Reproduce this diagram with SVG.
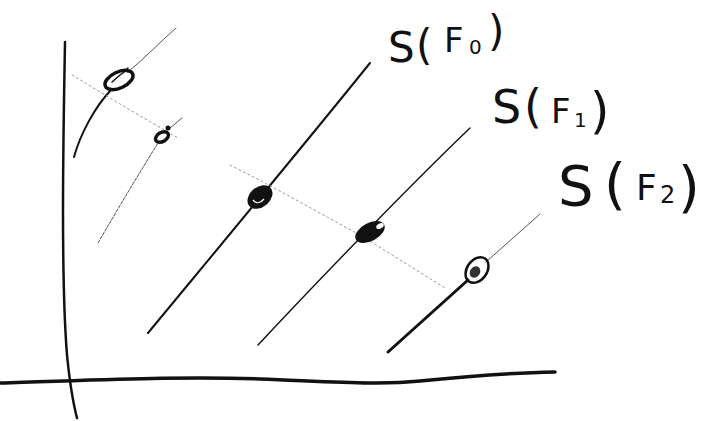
<svg xmlns="http://www.w3.org/2000/svg" width="701" height="421" viewBox="0 0 701 421">
<style>
.ink{fill:none;stroke:#111;stroke-linecap:round;stroke-linejoin:round}
.faint{fill:none;stroke:#555;stroke-width:1;stroke-linecap:round}
.dot{fill:none;stroke:#999;stroke-width:1;stroke-dasharray:2 3;stroke-linecap:round}
.lbl{font-family:"DejaVu Sans","Liberation Sans",sans-serif;fill:#111;font-weight:normal}
</style>
<rect width="701" height="421" fill="#fff"/>
<g id="connectors">
  <path id="axis-y" class="ink" stroke-width="2.5" d="M65,42 C63,150 61,280 67,355 Q71,395 77,418"/>
  <path id="axis-x" class="ink" stroke-width="3.5" d="M0,383 C100,380 180,376 260,379 S380,385 420,381 S500,373 555,372"/>
  <path class="ink" stroke-width="2" d="M74,157 C80,135 95,106 112,89"/>
  <path class="faint" stroke-width="1.3" d="M128,72 C145,58 160,42 176,28"/>
  <path class="faint" stroke-dasharray="3 1.5" d="M98,243 C120,205 140,172 158,143"/>
  <path class="faint" d="M170,128 L182,118"/>
  <path id="line-F0" class="ink" stroke-width="2" d="M148,333 C200,270 300,150 370,63"/>
  <path id="line-F1" class="ink" stroke-width="1.4" d="M258,345 C300,300 400,195 470,128"/>
  <path id="line-F2" class="ink" stroke-width="3" d="M388,352 L468,280"/>
  <path class="faint" stroke-width="1.2" d="M486,262 L540,214"/>
  <path class="dot" d="M72,75 L120,104 L178,138"/>
  <path class="dot" d="M230,165 L265,183 L300,202 L365,238 L445,288"/>
</g>
<g id="node-a">
  <ellipse cx="119" cy="80" rx="15" ry="8" transform="rotate(-25 119 80)" fill="none" stroke="#111" stroke-width="3.5"/>
  <path class="ink" stroke-width="1.5" d="M112,82 L120,75 L127,70 M123,73 L128,68"/>
</g>
<g id="node-b">
  <ellipse cx="162" cy="137" rx="7" ry="4.5" transform="rotate(-30 162 137)" fill="none" stroke="#111" stroke-width="3.5"/>
  <circle cx="168" cy="128" r="2.5" fill="#111"/>
</g>
<g id="node-f0">
  <ellipse cx="260" cy="197" rx="14" ry="10" transform="rotate(-40 260 197)" fill="#111"/>
  <path d="M253,200 Q258,206 264,199" fill="none" stroke="#fff" stroke-width="1.2"/>
</g>
<g id="node-f1">
  <ellipse cx="370" cy="232" rx="16" ry="9" transform="rotate(-28 370 232)" fill="#111"/>
  <ellipse cx="380" cy="226" rx="4" ry="2.5" transform="rotate(-28 380 226)" fill="#fff"/>
</g>
<g id="node-f2">
  <ellipse cx="477" cy="270" rx="10" ry="14" transform="rotate(35 477 270)" fill="none" stroke="#111" stroke-width="2.5"/>
  <ellipse cx="475" cy="272" rx="5" ry="6" transform="rotate(35 475 272)" fill="#333"/>
</g>
<g id="label-f0">
  <text class="lbl" font-size="42" x="388 416" y="62 60">S(<tspan font-size="34" x="444" y="52">F</tspan><tspan font-size="20" x="469" y="54">0</tspan><tspan x="488" y="46">)</tspan></text>
</g>
<g id="label-f1">
  <text class="lbl" font-size="46" x="492 524" y="123 122">S(<tspan font-size="34" x="551" y="123">F</tspan><tspan font-size="20" x="574" y="127">1</tspan><tspan font-size="50" x="590" y="128">)</tspan></text>
</g>
<g id="label-f2">
  <text class="lbl" font-size="56" x="558 604" y="205 203">S(<tspan font-size="36" x="636" y="200">F</tspan><tspan font-size="24" x="660" y="203">2</tspan><tspan x="678" y="206">)</tspan></text>
</g>
</svg>
